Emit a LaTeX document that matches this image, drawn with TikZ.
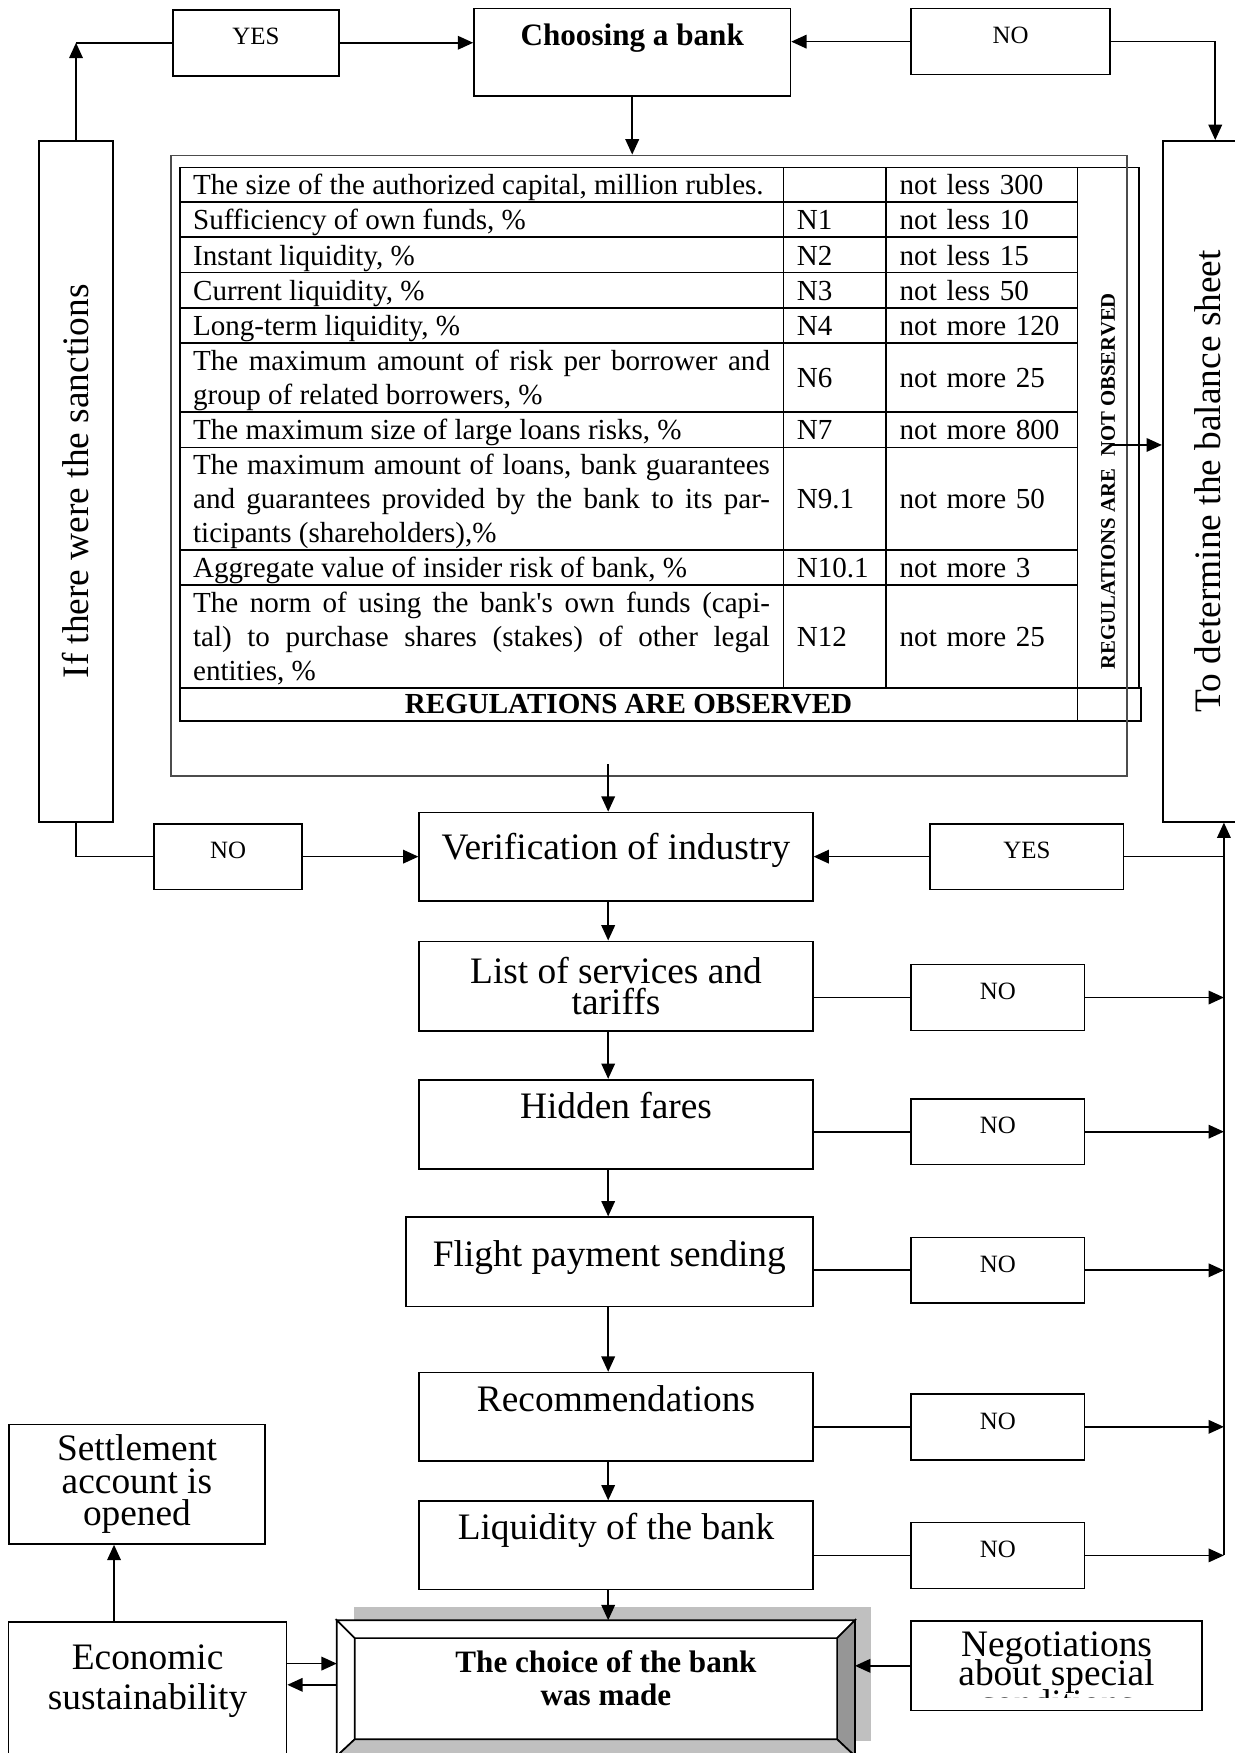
\documentclass[tikz,border=0pt]{standalone}
\usepackage{fontspec}
\usepackage{graphicx}
\setmainfont{Liberation Serif}
\usetikzlibrary{arrows.meta,shadows}
\newlength{\pxu}
\setlength{\pxu}{0.1893mm}
\hyphenpenalty=10000
\lineskiplimit=-20pt
\definecolor{bevdark}{HTML}{969696}
\definecolor{bevlight}{HTML}{C0C0C0}

\begin{document}
\begin{tikzpicture}[x=0.1893mm,y=-0.1893mm,line width=0.8pt,>={Triangle[length=2.6mm,width=2.3mm]}]
	\def \bigfont{\fontsize{18}{15}\selectfont}
	\def \tabfont{\fontsize{14}{16.4}\selectfont}
	\def \cellstrut{\rule[-3.1pt]{0pt}{16pt}}
	\def \colD{160}
	\def \colC{700}
	\def \colV{792}
	\def \colR{963}
	\tikzstyle{stage}=[draw,inner sep=0pt,anchor=north,font=\bigfont,minimum width=352\pxu]
	\tikzstyle{tall}=[draw,inner sep=0pt,font=\bigfont,minimum height=609\pxu]
	\tikzstyle{yn}=[draw,inner sep=0pt,anchor=north,font=\fontsize{12}{14}\selectfont,text height=31.5\pxu,text depth=27.5\pxu]
	\tikzstyle{cell}=[draw,anchor=north west,inner xsep=12\pxu,inner ysep=0pt,font=\tabfont,execute at begin node=\cellstrut,execute at end node=\cellstrut]
	\tikzstyle{cellD}=[cell,text width=516\pxu,align=justify]
	\tikzstyle{cellC}=[cell,text width=68\pxu,align=left]
	\tikzstyle{cellV}=[cell,text width=147\pxu,align=left]
	\tikzstyle{plain}=[draw,inner sep=0pt,align=center]

	\fill[white] (0,0) rectangle (1104,1568);
	\useasboundingbox (0,0) rectangle (1104,1568);

	% top row
	\node[yn,minimum width=148\pxu] (yes1) at (229,8) {YES};
	\node[draw,inner sep=0pt,anchor=north,minimum width=283\pxu,text height=33\pxu,text depth=45\pxu,font=\fontsize{15}{17}\selectfont\bfseries] (choose) at (565.5,7) {Choosing a bank};
	\node[yn,minimum width=178\pxu] (no1) at (904,7) {NO};

	% side boxes
	\node[tall,minimum width=66\pxu] (sanc) at (68,430.5) {\rotatebox{90}{If there were the sanctions}};
	\node[tall,minimum width=80\pxu] (rbox) at (1080,430.5) {\rotatebox{90}{To determine the balance sheet}};

	% table of standards
	\node[cellD,minimum height=31\pxu] (d1) at (\colD,149) {The size of the authorized capital, million rubles.};
	\node[cellC,minimum height=31\pxu] (c1) at (\colC,149) {};
	\node[cellV,minimum height=31\pxu] (v1) at (\colV,149) {not less 300};
	\node[cellD,minimum height=31.5\pxu] (d2) at (\colD,180) {Sufficiency of own funds, \%};
	\node[cellC,minimum height=31.5\pxu] (c2) at (\colC,180) {N1};
	\node[cellV,minimum height=31.5\pxu] (v2) at (\colV,180) {not less 10};
	\node[cellD,minimum height=31.5\pxu] (d3) at (\colD,211.5) {Instant liquidity, \%};
	\node[cellC,minimum height=31.5\pxu] (c3) at (\colC,211.5) {N2};
	\node[cellV,minimum height=31.5\pxu] (v3) at (\colV,211.5) {not less 15};
	\node[cellD,minimum height=31.5\pxu] (d4) at (\colD,243) {Current liquidity, \%};
	\node[cellC,minimum height=31.5\pxu] (c4) at (\colC,243) {N3};
	\node[cellV,minimum height=31.5\pxu] (v4) at (\colV,243) {not less 50};
	\node[cellD,minimum height=31.5\pxu] (d5) at (\colD,274.5) {Long-term liquidity, \%};
	\node[cellC,minimum height=31.5\pxu] (c5) at (\colC,274.5) {N4};
	\node[cellV,minimum height=31.5\pxu] (v5) at (\colV,274.5) {not more 120};
	\node[cellD,minimum height=61.5\pxu] (d6) at (\colD,306) {The maximum amount of risk per borrower and\linebreak group of related borrowers, \%};
	\node[cellC,minimum height=61.5\pxu] (c6) at (\colC,306) {N6};
	\node[cellV,minimum height=61.5\pxu] (v6) at (\colV,306) {not more 25};
	\node[cellD,minimum height=32\pxu] (d7) at (\colD,367.5) {The maximum size of large loans risks, \%};
	\node[cellC,minimum height=32\pxu] (c7) at (\colC,367.5) {N7};
	\node[cellV,minimum height=32\pxu] (v7) at (\colV,367.5) {not more 800};
	\node[cellD,minimum height=91.5\pxu] (d8) at (\colD,399.5) {The maximum amount of loans, bank guarantees\linebreak and guarantees provided by the bank to its par-\linebreak ticipants (shareholders),\%};
	\node[cellC,minimum height=91.5\pxu] (c8) at (\colC,399.5) {N9.1};
	\node[cellV,minimum height=91.5\pxu] (v8) at (\colV,399.5) {not more 50};
	\node[cellD,minimum height=31.5\pxu] (d9) at (\colD,491) {Aggregate value of insider risk of bank, \%};
	\node[cellC,minimum height=31.5\pxu] (c9) at (\colC,491) {N10.1};
	\node[cellV,minimum height=31.5\pxu] (v9) at (\colV,491) {not more 3};
	\node[cellD,minimum height=92\pxu] (d10) at (\colD,522.5) {The norm of using the bank\textquotesingle s own funds (capi-\linebreak tal) to purchase shares (stakes) of other legal\linebreak entities, \%};
	\node[cellC,minimum height=92\pxu] (c10) at (\colC,522.5) {N12};
	\node[cellV,minimum height=92\pxu] (v10) at (\colV,522.5) {not more 25};
	\node[draw,anchor=north west,inner sep=0pt,minimum width=803\pxu,minimum height=29.5\pxu,font=\tabfont\bfseries] (obs) at (\colD,614.5) {REGULATIONS ARE OBSERVED};
	\node[draw,anchor=north west,inner sep=0pt,minimum width=57\pxu,minimum height=29.5\pxu] (obsend) at (\colR,614.5) {};
	\node[draw,anchor=north west,inner sep=0pt,minimum width=55\pxu,text height=449\pxu,text depth=16.5\pxu,font=\fontsize{10}{12}\selectfont\bfseries] (regcol) at (\colR,149) {\rotatebox{90}{REGULATIONS ARE\hspace{2mm}NOT OBSERVED}};
	\node[draw=black!70,inner sep=0pt,minimum width=855\pxu,minimum height=555\pxu] (tframe) at (580.5,416.5) {};
	\coordinate (regarrow) at (995,398);

	% main chain
	\coordinate (axis) at (544,0);
	\node[stage,text height=42\pxu,text depth=37\pxu] (verif) at (551,726) {Verification of industry};
	\node[plain,font=\bigfont,minimum width=352\pxu,minimum height=80\pxu] (list) at (551,882) {List of services and\\tariffs};
	\node[stage,text height=35\pxu,text depth=45\pxu] (hidden) at (551,965) {Hidden fares};
	\node[stage,minimum width=364\pxu,text height=44\pxu,text depth=36\pxu] (flight) at (545,1088) {Flight payment sending};
	\node[stage,text height=35\pxu,text depth=44\pxu] (recom) at (551,1227) {Recommendations};
	\node[stage,text height=34\pxu,text depth=45\pxu] (liq) at (551,1342) {Liquidity of the bank};

	% yes / no
	\node[yn,minimum width=132\pxu] (no2) at (204,736) {NO};
	\node[yn,minimum width=173\pxu] (yes2) at (918.5,736) {YES};
	\node[yn,minimum width=155\pxu] (noL) at (892.5,862) {NO};
	\node[yn,minimum width=155\pxu] (noH) at (892.5,982) {NO};
	\node[yn,minimum width=155\pxu] (noF) at (892.5,1106) {NO};
	\node[yn,minimum width=155\pxu] (noR) at (892.5,1246) {NO};
	\node[yn,minimum width=155\pxu] (noQ) at (892.5,1361) {NO};
	\path (noQ.east) ++(124,0) coordinate (rv);

	% bottom
	\node[plain,font=\fontsize{18}{15.6}\selectfont,minimum width=229\pxu,minimum height=107\pxu] (settle) at (122.5,1327.5) {Settlement\\account is\\opened};
	\node[draw,anchor=north,minimum width=248.5\pxu,minimum height=160\pxu] (econ) at (132,1450) {};
	\node[align=center,font=\fontsize{18}{19.3}\selectfont] (econtxt) at (132,1504) {Economic\\sustainability};
	\node[draw,fill=white,inner sep=0pt,minimum width=462\pxu,minimum height=120\pxu,general shadow={fill=bevlight,shadow xshift=15\pxu,shadow yshift=13\pxu}] (choice) at (533,1510) {};
	\coordinate (cnw) at ([shift={(16,16)}]choice.north west);
	\coordinate (cne) at ([shift={(-16,16)}]choice.north east);
	\coordinate (cse) at ([shift={(-16,-15)}]choice.south east);
	\coordinate (csw) at ([shift={(16,-15)}]choice.south west);
	\filldraw[fill=white] (choice.north west) -- (choice.north east) -- (cne) -- (cnw) -- cycle;
	\filldraw[fill=white] (choice.north west) -- (cnw) -- (csw) -- (choice.south west) -- cycle;
	\filldraw[fill=bevdark] (choice.north east) -- (choice.south east) -- (cse) -- (cne) -- cycle;
	\filldraw[fill=bevlight] (choice.south west) -- (csw) -- (cse) -- (choice.south east) -- cycle;
	\node[align=center,font=\fontsize{15}{15.6}\selectfont\bfseries] (choicetxt) at ([shift={(9,-9)}]choice.center) {The choice of the bank\\was made};
	\node[draw,minimum width=260\pxu,minimum height=80\pxu] (nego) at (945,1490) {};
	\begin{scope}
		\clip (nego.north west) rectangle ([yshift=12\pxu]nego.south east);
		\node[align=center,font=\fontsize{18}{14.2}\selectfont] (negotxt) at (945,1497) {Negotiations\\about special\\conditions};
	\end{scope}

	% connections
	\draw[->] (sanc.north) -- (sanc.north |- yes1.west);
	\draw (sanc.north |- yes1.west) -- (yes1.west);
	\draw[->] (no1.east) -| ([xshift=7\pxu]rbox.north);
	\draw (sanc.south) |- (no2.west);
	\draw (yes2.east) -- (yes2.east -| rv);
	\draw (noL.west -| list.east) -- (noL.west);
	\draw (noH.west -| hidden.east) -- (noH.west);
	\draw (noF.west -| flight.east) -- (noF.west);
	\draw (noR.west -| recom.east) -- (noR.west);
	\draw (noQ.west -| liq.east) -- (noQ.west);
	\path[->]
		(yes1.east)	edge	(yes1.east -| choose.west)
		(no1.west)	edge	(no1.west -| choose.east)
		(choose.south)	edge	(choose.south |- tframe.north)
		(regarrow)	edge	(regarrow -| rbox.west)
		([yshift=11\pxu]tframe.south -| axis)	edge	(verif.north -| axis)
		(verif.south -| axis)	edge	(list.north -| axis)
		(list.south -| axis)	edge	(hidden.north -| axis)
		(hidden.south -| axis)	edge	(flight.north -| axis)
		(flight.south -| axis)	edge	(recom.north -| axis)
		(recom.south -| axis)	edge	(liq.north -| axis)
		(liq.south -| axis)	edge	(choice.north -| axis)
		(no2.east)	edge	(no2.east -| verif.west)
		(yes2.west)	edge	(yes2.west -| verif.east)
		%
		(noL.east)	edge	(noL.east -| rv)
		(noH.east)	edge	(noH.east -| rv)
		(noF.east)	edge	(noF.east -| rv)
		(noR.east)	edge	(noR.east -| rv)
		(noQ.east)	edge	(rv)
		(rv)	edge	(rv |- rbox.south)
		%
		([xshift=-30\pxu]econ.north)	edge	([xshift=-30\pxu]econ.north |- settle.south)
		([yshift=22\pxu]choice.west -| econ.east)	edge	([yshift=22\pxu]choice.west)
		([yshift=3\pxu]choice.west)	edge	([yshift=3\pxu]choice.west -| econ.east)
		(nego.west)	edge	(nego.west -| choice.east);
\end{tikzpicture}
\end{document}
